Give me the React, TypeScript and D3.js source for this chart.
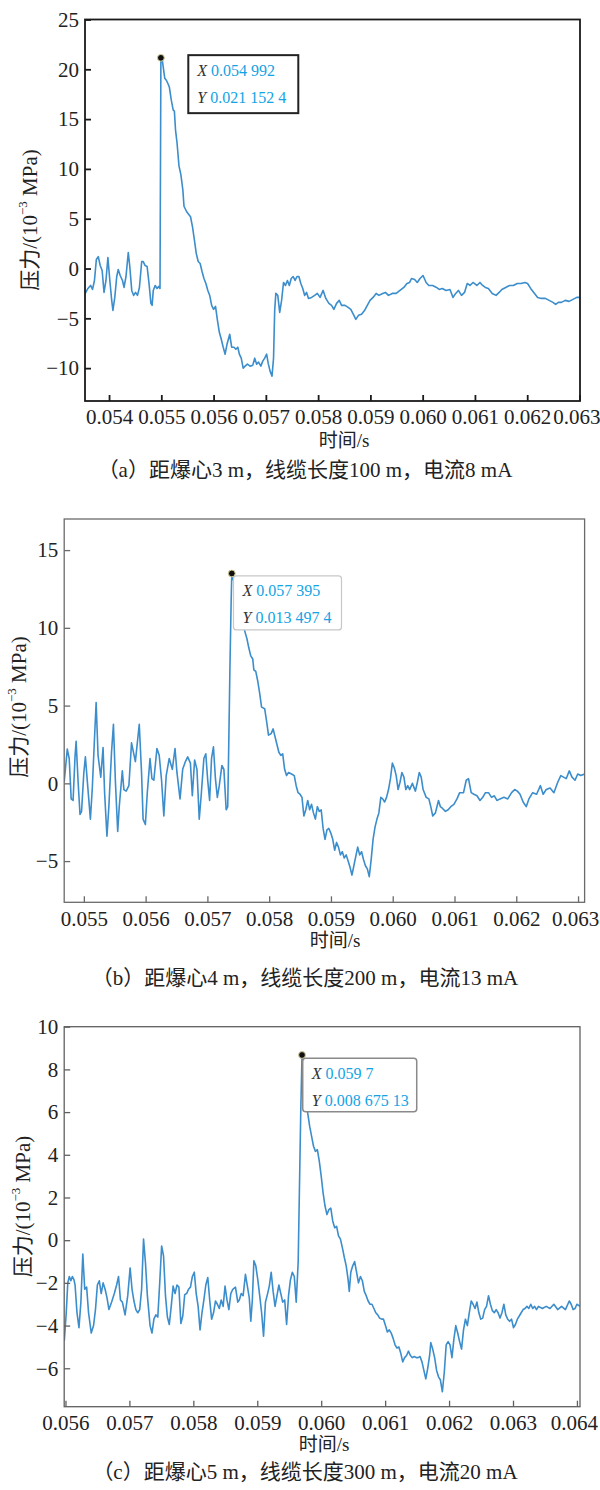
import React, { useEffect, useRef } from "react";
import { select, scaleLinear, line, axisBottom, axisLeft } from "d3";

// time in ms, pressure in 10^-3 MPa
const tA = [
  53.544, 53.596, 53.647, 53.684, 53.721, 53.757, 53.794, 53.831, 53.868, 53.904,
  53.941, 53.978, 54.015, 54.051, 54.074, 54.11, 54.147, 54.176, 54.213, 54.257,
  54.287, 54.324, 54.368, 54.397, 54.434, 54.471, 54.507, 54.544, 54.581, 54.625,
  54.654, 54.691, 54.728, 54.765, 54.801, 54.824, 54.846, 54.882, 54.919, 54.949,
  54.975, 54.992, 55.022, 55.066, 55.096, 55.132, 55.154, 55.191, 55.228, 55.25,
  55.272, 55.301, 55.338, 55.375, 55.412, 55.434, 55.485, 55.559, 55.596, 55.632,
  55.669, 55.706, 55.743, 55.779, 55.816, 55.853, 55.89, 55.926, 55.963, 56.0,
  56.037, 56.074, 56.11, 56.147, 56.184, 56.221, 56.257, 56.309, 56.346, 56.39,
  56.426, 56.463, 56.493, 56.529, 56.566, 56.603, 56.647, 56.699, 56.75, 56.787,
  56.824, 56.86, 56.904, 56.941, 56.978, 57.015, 57.044, 57.081, 57.118, 57.147,
  57.169, 57.191, 57.228, 57.265, 57.301, 57.338, 57.375, 57.412, 57.449, 57.485,
  57.522, 57.559, 57.596, 57.632, 57.669, 57.706, 57.743, 57.779, 57.816, 57.875,
  57.934, 57.985, 58.037, 58.096, 58.147, 58.206, 58.257, 58.301, 58.353, 58.404,
  58.449, 58.515, 58.574, 58.625, 58.684, 58.721, 58.772, 58.831, 58.89, 58.941,
  58.993, 59.051, 59.11, 59.162, 59.235, 59.287, 59.346, 59.419, 59.493, 59.566,
  59.64, 59.699, 59.75, 59.787, 59.846, 59.897, 59.949, 60.007, 60.066, 60.118,
  60.191, 60.265, 60.316, 60.375, 60.449, 60.522, 60.581, 60.632, 60.684, 60.743,
  60.801, 60.853, 60.904, 60.963, 61.037, 61.096, 61.147, 61.199, 61.257, 61.331,
  61.404, 61.463, 61.515, 61.588, 61.662, 61.735, 61.809, 61.882, 61.956, 62.007,
  62.066, 62.14, 62.199, 62.272, 62.346, 62.419, 62.493, 62.544, 62.596, 62.654,
  62.728, 62.801, 62.875, 62.949, 63.007,
];
const pA = [
  -2.5, -2.0, -1.7, -2.1, -1.2, 0.9, 1.2, 0.3, -0.2, -2.4,
  -1.2, 1.1, -1.2, -3.2, -4.2, -2.9, -0.8, -0.1, -0.7, -1.2,
  -1.9, -0.8, 1.6, 0.2, -2.2, -2.7, -2.4, -2.7, -1.9, 0.7,
  0.7, 0.3, 0.2, -1.5, -3.5, -3.7, -2.2, -1.7, -2.0, -1.8,
  -2.0, 21.15, 20.8, 19.1, 18.9, 18.5, 18.2, 16.9, 15.9, 15.8,
  13.9, 12.6, 10.3, 9.4, 7.9, 6.25, 5.7, 5.2, 4.2, 2.9,
  1.5, 0.7, 0.5, -0.3, -1.0, -1.5, -2.2, -2.7, -3.7, -4.1,
  -3.8, -5.2, -6.4, -7.1, -7.9, -8.6, -7.6, -6.6, -7.9, -7.9,
  -8.1, -7.9, -8.6, -9.0, -10.0, -9.8, -9.6, -9.8, -9.7, -9.0,
  -9.6, -9.4, -9.8, -9.3, -9.0, -8.6, -9.5, -10.3, -10.8, -9.0,
  -4.2, -2.5, -2.7, -4.4, -3.2, -1.4, -1.7, -1.2, -1.7, -1.0,
  -0.8, -1.2, -0.8, -0.8, -1.5, -2.0, -2.7, -2.4, -3.0, -2.9,
  -2.7, -2.5, -2.9, -2.2, -3.0, -3.5, -3.7, -4.1, -3.5, -3.2,
  -3.7, -3.7, -3.9, -4.1, -4.7, -5.1, -4.7, -4.6, -4.2, -3.7,
  -3.2, -2.9, -2.5, -2.7, -2.5, -2.4, -2.7, -2.5, -2.5, -2.2,
  -1.9, -1.5, -1.4, -1.0, -1.1, -1.4, -1.0, -0.7, -1.4, -1.7,
  -1.7, -1.9, -2.1, -2.0, -2.2, -2.1, -2.9, -2.5, -2.2, -2.7,
  -2.4, -1.5, -1.7, -1.4, -1.7, -1.4, -1.7, -1.9, -2.0, -2.5,
  -2.7, -2.4, -2.1, -1.9, -1.7, -1.7, -1.5, -1.5, -1.4, -1.5,
  -2.0, -2.5, -2.9, -3.0, -3.0, -3.2, -3.4, -3.6, -3.4, -3.4,
  -3.2, -3.3, -3.1, -2.9, -2.9,
];

const tB = [
  54.682, 54.732, 54.763, 54.795, 54.826, 54.857, 54.875, 54.907, 54.938, 54.963,
  55.0, 55.025, 55.062, 55.106, 55.137, 55.168, 55.199, 55.23, 55.274, 55.311,
  55.336, 55.374, 55.405, 55.448, 55.479, 55.511, 55.548, 55.573, 55.623, 55.648,
  55.685, 55.729, 55.772, 55.834, 55.897, 55.934, 55.959, 55.996, 56.027, 56.071,
  56.102, 56.133, 56.183, 56.22, 56.258, 56.295, 56.333, 56.382, 56.432, 56.476,
  56.507, 56.557, 56.6, 56.644, 56.681, 56.725, 56.756, 56.793, 56.831, 56.868,
  56.899, 56.943, 56.974, 57.005, 57.036, 57.067, 57.098, 57.13, 57.161, 57.192,
  57.235, 57.267, 57.304, 57.329, 57.345, 57.365, 57.385, 57.395, 57.441, 57.472,
  57.503, 57.553, 57.597, 57.64, 57.671, 57.702, 57.734, 57.752, 57.783, 57.814,
  57.846, 57.877, 57.927, 57.958, 57.989, 58.032, 58.064, 58.095, 58.126, 58.157,
  58.188, 58.219, 58.25, 58.281, 58.313, 58.362, 58.406, 58.437, 58.468, 58.499,
  58.531, 58.562, 58.593, 58.624, 58.655, 58.686, 58.717, 58.748, 58.78, 58.811,
  58.842, 58.873, 58.904, 58.935, 58.966, 58.998, 59.029, 59.06, 59.091, 59.122,
  59.153, 59.184, 59.215, 59.247, 59.278, 59.309, 59.34, 59.371, 59.402, 59.433,
  59.465, 59.496, 59.527, 59.558, 59.589, 59.62, 59.651, 59.682, 59.714, 59.745,
  59.776, 59.807, 59.838, 59.869, 59.9, 59.932, 59.963, 59.994, 60.025, 60.056,
  60.087, 60.118, 60.149, 60.181, 60.212, 60.243, 60.274, 60.318, 60.367, 60.399,
  60.43, 60.461, 60.492, 60.542, 60.585, 60.616, 60.648, 60.691, 60.741, 60.772,
  60.803, 60.853, 60.897, 60.94, 60.99, 61.04, 61.084, 61.146, 61.19, 61.227,
  61.27, 61.314, 61.364, 61.413, 61.457, 61.501, 61.55, 61.6, 61.644, 61.687,
  61.737, 61.8, 61.862, 61.924, 61.974, 62.017, 62.061, 62.111, 62.161, 62.204,
  62.266, 62.329, 62.391, 62.435, 62.485, 62.547, 62.609, 62.671, 62.721, 62.765,
  62.808, 62.858, 62.902, 62.951, 62.995, 63.045, 63.106,
];
const pB = [
  0.1, 2.2, 1.6, -1.0, -1.1, 1.7, 2.7, 0.1, -2.0, -1.8,
  0.7, 1.7, -0.15, -2.3, -0.3, 2.5, 5.2, 1.8, 0.4, 2.3,
  -0.6, -3.4, -1.5, 2.0, 3.8, 0.1, -3.1, -1.5, 0.8, -0.4,
  -0.5, -0.15, 2.6, 1.4, 3.8, 0.7, -2.3, -2.65, -0.6, 1.6,
  0.3, 0.2, 2.24, 1.8, 0.2, -2.1, 0.5, 1.6, 0.9, 2.24,
  0.7, -1.0, 0.9, 1.4, 1.7, 1.3, -0.8, 1.5, 0.9, -2.3,
  -0.8, 1.6, 1.9, 0.2, -1.1, 1.6, 2.35, 0.3, -0.9, -0.15,
  1.15, 0.9, -1.7, -1.5, 2.3, 7.5, 11.8, 13.497, 12.8, 11.9,
  11.2, 10.6, 9.9, 9.3, 8.7, 8.2, 8.0, 7.3, 7.2, 6.6,
  5.8, 4.9, 4.8, 4.0, 3.1, 3.2, 3.5, 3.0, 2.5, 2.0,
  1.8, 1.9, 0.9, 0.5, 0.7, 0.6, 0.5, -0.15, -0.6, -0.7,
  -0.9, -2.1, -1.7, -1.1, -1.7, -1.35, -1.9, -2.3, -1.5, -1.8,
  -1.7, -2.9, -3.6, -3.0, -2.9, -3.2, -3.6, -4.3, -3.8, -4.1,
  -4.6, -4.4, -4.8, -4.6, -5.0, -5.4, -5.9, -5.3, -4.7, -4.1,
  -4.6, -4.4, -4.9, -5.3, -5.5, -6.0, -4.9, -3.6, -2.8, -2.3,
  -1.9, -0.9, -1.0, -1.2, -0.9, -0.4, 0.3, 1.3, 1.0, 0.5,
  -0.4, 0.07, 0.7, 0.4, -0.4, -0.15, -0.4, 0.0, -0.5, 0.07,
  0.7, 0.4, -0.4, -0.9, -1.0, -1.5, -2.1, -1.9, -1.1, -1.5,
  -1.6, -1.8, -1.7, -1.5, -1.35, -1.0, -0.6, -0.6, 0.2, 0.3,
  -0.6, -0.7, -0.8, -1.1, -0.9, -0.6, -0.6, -0.9, -0.8, -1.1,
  -1.0, -0.9, -1.0, -0.6, -0.4, -0.5, -0.7, -1.2, -1.5, -1.0,
  -0.6, -0.7, -0.15, -0.7, -0.4, -0.3, -0.6, 0.07, 0.5, 0.4,
  0.3, 0.8, 0.4, 0.2, 0.6, 0.5, 0.6,
];

const tC = [
  55.982, 56.012, 56.036, 56.06, 56.084, 56.108, 56.132, 56.15, 56.18, 56.211,
  56.241, 56.271, 56.301, 56.331, 56.361, 56.403, 56.439, 56.469, 56.499, 56.529,
  56.559, 56.589, 56.62, 56.65, 56.68, 56.722, 56.764, 56.8, 56.83, 56.86,
  56.89, 56.932, 56.974, 57.011, 57.041, 57.071, 57.101, 57.131, 57.161, 57.191,
  57.221, 57.251, 57.281, 57.323, 57.353, 57.383, 57.414, 57.444, 57.474, 57.504,
  57.534, 57.564, 57.594, 57.624, 57.654, 57.684, 57.714, 57.744, 57.774, 57.805,
  57.835, 57.865, 57.895, 57.925, 57.955, 57.985, 58.015, 58.045, 58.075, 58.105,
  58.135, 58.165, 58.195, 58.226, 58.256, 58.286, 58.316, 58.346, 58.376, 58.406,
  58.436, 58.466, 58.496, 58.526, 58.556, 58.586, 58.617, 58.659, 58.695, 58.719,
  58.749, 58.779, 58.815, 58.845, 58.875, 58.899, 58.923, 58.947, 58.977, 59.008,
  59.038, 59.068, 59.098, 59.128, 59.158, 59.188, 59.218, 59.248, 59.278, 59.308,
  59.338, 59.368, 59.398, 59.429, 59.459, 59.489, 59.519, 59.549, 59.579, 59.609,
  59.64, 59.66, 59.68, 59.7, 59.729, 59.759, 59.789, 59.82, 59.85, 59.88,
  59.91, 59.94, 59.97, 60.0, 60.03, 60.06, 60.09, 60.12, 60.15, 60.18,
  60.211, 60.241, 60.271, 60.301, 60.331, 60.361, 60.391, 60.421, 60.439, 60.463,
  60.493, 60.523, 60.553, 60.583, 60.614, 60.644, 60.674, 60.704, 60.734, 60.764,
  60.794, 60.824, 60.854, 60.884, 60.914, 60.944, 60.974, 61.005, 61.035, 61.065,
  61.095, 61.125, 61.155, 61.185, 61.215, 61.245, 61.275, 61.305, 61.335, 61.365,
  61.395, 61.426, 61.456, 61.486, 61.516, 61.546, 61.576, 61.606, 61.636, 61.666,
  61.696, 61.714, 61.744, 61.774, 61.805, 61.835, 61.865, 61.895, 61.925, 61.955,
  61.985, 62.015, 62.045, 62.075, 62.105, 62.135, 62.165, 62.195, 62.226, 62.256,
  62.286, 62.316, 62.346, 62.376, 62.406, 62.436, 62.466, 62.496, 62.526, 62.556,
  62.586, 62.617, 62.647, 62.677, 62.707, 62.737, 62.767, 62.797, 62.827, 62.857,
  62.887, 62.917, 62.947, 62.977, 63.008, 63.038, 63.068, 63.098, 63.128, 63.158,
  63.188, 63.218, 63.248, 63.278, 63.308, 63.338, 63.368, 63.398, 63.459, 63.519,
  63.579, 63.639, 63.699, 63.759, 63.82, 63.88, 63.91, 63.94, 63.97, 64.0,
  64.048,
];
const pC = [
  -4.7, -3.4, -2.0, -1.7, -1.9, -1.7, -1.85, -2.1, -3.4, -4.1,
  -2.9, -0.65, -2.3, -2.2, -3.4, -4.35, -4.0, -3.25, -2.1, -1.9,
  -2.5, -2.0, -2.3, -2.7, -3.25, -2.9, -2.5, -2.1, -1.7, -2.8,
  -2.9, -3.5, -2.6, -1.3, -2.3, -2.85, -3.25, -3.4, -3.25, -2.3,
  0.05, -1.05, -2.6, -4.0, -4.35, -3.7, -3.5, -3.6, -2.0, -0.27,
  -0.74, -2.6, -3.6, -3.95, -3.1, -2.15, -2.5, -2.1, -2.2, -3.9,
  -3.55, -2.55, -2.5, -2.3, -2.2, -1.7, -1.5, -2.5, -3.1, -4.2,
  -3.4, -2.8, -2.1, -1.75, -2.8, -3.7, -3.4, -2.85, -3.0, -3.2,
  -2.8, -3.1, -2.15, -2.8, -3.25, -2.5, -2.3, -2.2, -2.9, -2.8,
  -2.5, -2.6, -1.6, -2.15, -2.7, -3.8, -2.8, -0.97, -1.2, -1.85,
  -2.6, -3.4, -4.5, -2.9, -2.55, -2.15, -1.5, -2.4, -3.1, -2.6,
  -2.1, -2.5, -2.9, -2.8, -3.95, -2.6, -1.85, -1.5, -1.7, -2.9,
  -1.0, 2.5, 6.0, 8.675, 7.66, 7.04, 5.95, 5.33, 4.86, 4.4,
  4.16, 4.24, 3.7, 3.0, 2.2, 1.6, 1.2, 1.43, 1.5, 0.9,
  0.58, 0.65, 0.2, 0.05, -0.35, -0.8, -1.2, -1.85, -2.4, -1.5,
  -1.2, -1.0, -1.5, -2.0, -1.7, -1.9, -2.4, -2.6, -2.85, -3.0,
  -3.0, -3.2, -3.4, -3.5, -3.65, -3.7, -3.7, -4.0, -4.3, -4.2,
  -4.35, -4.6, -4.9, -5.05, -5.0, -5.3, -5.7, -5.5, -5.4, -5.2,
  -5.4, -5.5, -5.45, -5.5, -5.5, -5.45, -5.7, -6.1, -6.5, -6.0,
  -5.4, -4.8, -5.1, -5.5, -6.1, -6.4, -6.55, -7.1, -6.2, -4.9,
  -4.75, -4.9, -5.5, -4.65, -4.0, -4.35, -4.75, -5.1, -4.2, -3.7,
  -4.0, -3.4, -2.85, -3.0, -3.2, -2.9, -3.4, -3.7, -3.65, -3.25,
  -3.1, -2.6, -3.0, -3.3, -3.4, -3.25, -3.4, -3.65, -3.4, -3.0,
  -3.5, -3.7, -3.8, -3.7, -4.1, -3.95, -3.7, -3.55, -3.4, -3.25,
  -3.2, -3.1, -3.2, -3.0, -3.2, -3.1, -3.25, -3.1, -3.2, -3.1,
  -3.2, -3.0, -3.25, -3.1, -3.25, -2.85, -3.0, -3.25, -3.2, -3.0,
  -3.1,
];

const xTicksA = [54, 55, 56, 57, 58, 59, 60, 61, 62, 63];
const yTicksA = [-10, -5, 0, 5, 10, 15, 20, 25];
const xTicksB = [55, 56, 57, 58, 59, 60, 61, 62, 63];
const yTicksB = [-5, 0, 5, 10, 15];
const xTicksC = [56, 57, 58, 59, 60, 61, 62, 63, 64];
const yTicksC = [-6, -4, -2, 0, 2, 4, 6, 8, 10];

const peakA = ["0.054 992", "0.021 152 4"];
const peakB = ["0.057 395", "0.013 497 4"];
const peakC = ["0.059 7", "0.008 675 13"];

const captions = [
  "（a）距爆心3 m，线缆长度100 m，电流8 mA",
  "（b）距爆心4 m，线缆长度200 m，电流13 mA",
  "（c）距爆心5 m，线缆长度300 m，电流20 mA",
];

const SERIF = '"Liberation Serif", "Times New Roman", "Noto Sans CJK SC", serif';
const LINE = "#3b8dcc";
const CYAN = "#14a3e4";

type PanelProps = {
  id: string;
  t: number[];
  p: number[];
  left: number;
  right: number;
  top: number;
  bottom: number;
  xDomain: [number, number];
  yDomain: [number, number];
  xTicks: number[];
  yTicks: number[];
  peakIndex: number;
  tip: string[];
  tipDx: number;
  tipDy: number;
  tipW: number;
  tipH: number;
  tipStroke: string;
  tipStrokeWidth: number;
  tipRadius: number;
  frame: string;
  frameWidth: number;
  yLabelX: number;
  yLabelY: number;
  xLabelX: number;
  xLabelY: number;
  caption: string;
  captionY: number;
};

function Panel(c: PanelProps) {
  const gx = useRef<SVGGElement>(null);
  const gy = useRef<SVGGElement>(null);

  const x = scaleLinear().domain(c.xDomain).range([c.left, c.right]);
  const y = scaleLinear().domain(c.yDomain).range([c.bottom, c.top]);
  const d = line<number>()
    .x((_, i) => x(c.t[i]))
    .y((v) => y(v))(c.p);

  useEffect(() => {
    const ax = select(gx.current!).call(
      axisBottom(x)
        .tickValues(c.xTicks)
        .tickSizeInner(-6)
        .tickSizeOuter(0)
        .tickPadding(8.5)
        .tickFormat((v) => (+v / 1000).toFixed(3))
    );
    const ay = select(gy.current!).call(
      axisLeft(y)
        .tickValues(c.yTicks)
        .tickSizeInner(-6)
        .tickSizeOuter(0)
        .tickPadding(6)
        .tickFormat((v) => (+v < 0 ? "\u2212" + Math.abs(+v) : String(v)))
    );
    [ax, ay].forEach((g: any) => {
      g.attr("font-family", SERIF).attr("font-size", 21);
      g.select(".domain").remove();
      g.selectAll("line").attr("stroke", c.frame).attr("stroke-width", c.frameWidth);
      g.selectAll("text").attr("fill", "#222");
    });
    // keep the last time label inside the page
    ax.selectAll(".tick:last-of-type text").attr("dx", -3);
  }, []);

  const px = x(c.t[c.peakIndex]);
  const py = y(c.p[c.peakIndex]);
  const bx = px + c.tipDx;
  const by = py + c.tipDy;

  return (
    <g>
      <clipPath id={"clip-" + c.id}>
        <rect x={c.left} y={c.top} width={c.right - c.left} height={c.bottom - c.top} />
      </clipPath>
      <path d={d ?? ""} fill="none" stroke={LINE} strokeWidth={1.6} strokeLinejoin="round" clipPath={`url(#clip-${c.id})`} />
      <rect x={c.left} y={c.top} width={c.right - c.left} height={c.bottom - c.top} fill="none" stroke={c.frame} strokeWidth={c.frameWidth} />
      <g ref={gx} transform={`translate(0,${c.bottom})`} />
      <g ref={gy} transform={`translate(${c.left},0)`} />

      <circle cx={px} cy={py} r={3.4} fill="#111" stroke="#d9cf9a" strokeWidth={1} />
      <rect x={bx} y={by} width={c.tipW} height={c.tipH} rx={c.tipRadius} fill="#fff" stroke={c.tipStroke} strokeWidth={c.tipStrokeWidth} />
      <text x={bx + 9} y={by + 20.5} fontFamily={SERIF} fontSize={16}>
        <tspan fontStyle="italic" fill="#333">X</tspan>
        <tspan fill={CYAN}>{" " + c.tip[0]}</tspan>
      </text>
      <text x={bx + 9} y={by + 47.5} fontFamily={SERIF} fontSize={16}>
        <tspan fontStyle="italic" fill="#333">Y</tspan>
        <tspan fill={CYAN}>{" " + c.tip[1]}</tspan>
      </text>

      <text transform={`translate(${c.yLabelX},${c.yLabelY}) rotate(-90)`} textAnchor="middle" dominantBaseline="central" fontFamily={SERIF} fontSize={21} fill="#222">
        压力/(10<tspan fontSize={13} dy={-8}>{"\u22123"}</tspan>
        <tspan dy={8}>{" MPa)"}</tspan>
      </text>
      <text x={c.xLabelX} y={c.xLabelY} textAnchor="middle" fontFamily={SERIF} fontSize={19} fill="#222">
        时间/s
      </text>
      <text x={305} y={c.captionY} textAnchor="middle" fontFamily={SERIF} fontSize={21} fill="#222">
        {c.caption}
      </text>
    </g>
  );
}

export default function App() {
  return (
    <svg width={600} height={1490} style={{ position: "absolute", left: 0, top: 0, background: "#fff" }}>
      <rect width={600} height={1490} fill="#fff" />
      <Panel
        id="a" t={tA} p={pA}
        left={85} right={580} top={19.5} bottom={401}
        xDomain={[53.54, 63.01]} yDomain={[-13.3, 25]}
        xTicks={xTicksA} yTicks={yTicksA}
        peakIndex={41} tip={peakA}
        tipDx={27.4} tipDy={-2.7} tipW={110} tipH={58} tipStroke="#222" tipStrokeWidth={2} tipRadius={0}
        frame="#1a1a1a" frameWidth={1.8}
        yLabelX={30} yLabelY={220} xLabelX={344} xLabelY={447}
        caption={captions[0]} captionY={477}
      />
      <Panel
        id="b" t={tB} p={pB}
        left={64.2} right={584.6} top={519} bottom={902.3}
        xDomain={[54.682, 63.106]} yDomain={[-7.65, 17]}
        xTicks={xTicksB} yTicks={yTicksB}
        peakIndex={77} tip={peakB}
        tipDx={1.7} tipDy={2.5} tipW={108} tipH={54} tipStroke="#c8c8c8" tipStrokeWidth={1.2} tipRadius={3}
        frame="#6a6a6a" frameWidth={1.3}
        yLabelX={19} yLabelY={707} xLabelX={335} xLabelY={947}
        caption={captions[1]} captionY={985}
      />
      <Panel
        id="c" t={tC} p={pC}
        left={64.2} right={580} top={1026.7} bottom={1406.7}
        xDomain={[55.98, 64.048]} yDomain={[-7.8, 10]}
        xTicks={xTicksC} yTicks={yTicksC}
        peakIndex={123} tip={peakC}
        tipDx={0.7} tipDy={3.3} tipW={114} tipH={53.5} tipStroke="#8a8a8a" tipStrokeWidth={1.5} tipRadius={3}
        frame="#606060" frameWidth={1.3}
        yLabelX={23} yLabelY={1206.5} xLabelX={324} xLabelY={1451}
        caption={captions[2]} captionY={1479}
      />
    </svg>
  );
}
